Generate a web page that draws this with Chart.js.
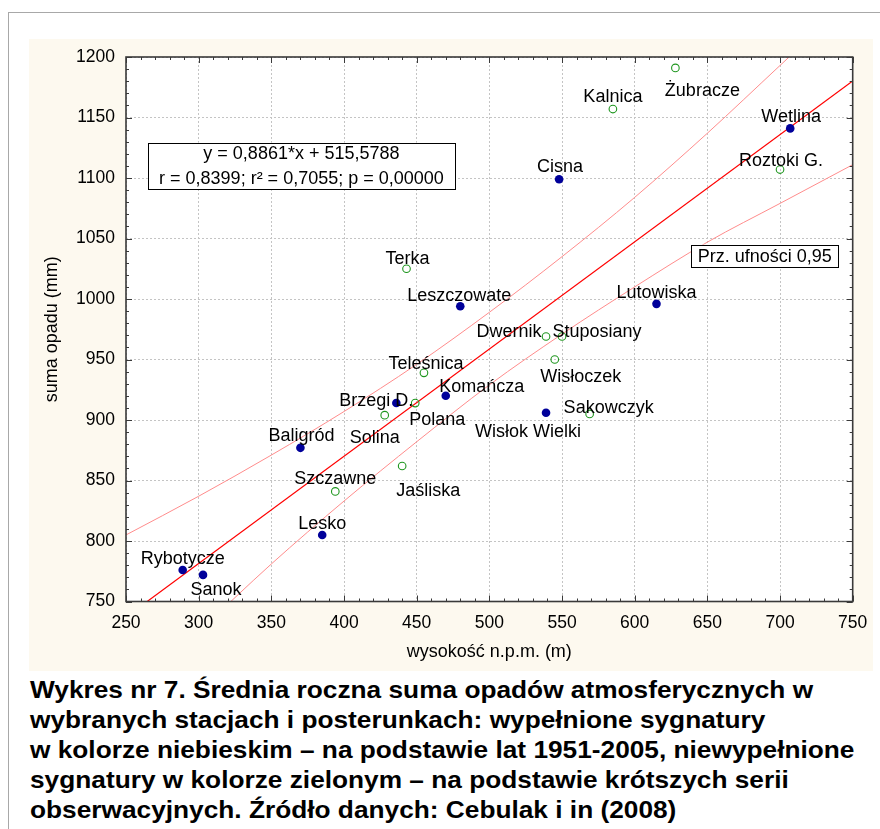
<!DOCTYPE html>
<html>
<head>
<meta charset="utf-8">
<script src="https://cdn.jsdelivr.net/npm/chart.js@4"></script>
<style>
  body { margin: 0; width: 880px; height: 829px; background: #fff; position: relative; overflow: hidden; font-family: "Liberation Sans", Arial, sans-serif; }
  #frame { position: absolute; left: 8px; top: 12px; right: 0; bottom: 0; border-left: 1px solid #a8a8a8; border-top: 1px solid #a8a8a8; }
  #plot { position: absolute; left: 29px; top: 39px; width: 844px; height: 632px; background: #fdf9ef; }
  #caption { position: absolute; left: 30px; top: 675px; font-weight: bold; font-size: 24px; line-height: 30.1px; white-space: nowrap; color: #000; transform: scaleX(1.094); transform-origin: 0 0; }
</style>
</head>
<body>
<div id="frame"></div>
<div id="plot"><canvas id="chart" width="844" height="632"></canvas></div>
<div id="caption">
Wykres nr 7. Średnia roczna suma opadów atmosferycznych w<br>
wybranych stacjach i posterunkach: wypełnione sygnatury<br>
w kolorze niebieskim – na podstawie lat 1951-2005, niewypełnione<br>
sygnatury w kolorze zielonym – na podstawie krótszych serii<br>
obserwacyjnych. Źródło danych: Cebulak i in (2008)
</div>
<script>
// Stations with 1951-2005 series (filled blue)
const filledNames = ['Rybotycze', 'Sanok', 'Baligród', 'Lesko', 'Brzegi D.', 'Komańcza', 'Leszczowate', 'Wisłok Wielki', 'Cisna', 'Lutowiska', 'Wetlina'];
const filledAlt = [289, 303, 370, 385, 436, 470, 480, 539, 548, 615, 707];
const filledRain = [776, 772, 877, 805, 914, 920, 994, 906, 1099, 996, 1141];

// Stations with shorter series (open green)
const openNames = ['Szczawne', 'Solina', 'Jaśliska', 'Terka', 'Polana', 'Teleśnica', 'Dwernik', 'Wisłoczek', 'Stuposiany', 'Sakowczyk', 'Kalnica', 'Żubracze', 'Roztoki G.'];
const openAlt = [394, 428, 440, 443, 449, 455, 539, 545, 550, 569, 585, 628, 700];
const openRain = [841, 904, 862, 1025, 914, 939, 969, 950, 969, 905, 1157, 1191, 1107];

// Regression line y = 0,8861*x + 515,5788 (end values)
const fitAlt = [250, 750];
const fitRain = [737.1, 1180.2];

// 95% confidence band
const bandAlt = [250, 300, 350, 400, 450, 500, 550, 600, 650, 700, 750];
const bandUpper = [805, 837, 871, 907, 946, 989, 1035, 1084, 1137, 1193, 1249];
const bandLower = [669, 725, 781, 833, 882, 929, 971, 1010, 1047, 1079, 1111];

// Tick labels
const xTickValues = [250, 300, 350, 400, 450, 500, 550, 600, 650, 700, 750];
const yTickValues = [750, 800, 850, 900, 950, 1000, 1050, 1100, 1150, 1200];

// Label placement (px from point: text centre x, baseline y)
const filledLabelOffsets = [[0, -6], [13, 20], [1, -7], [0, -6], [-20, 3], [36, -4], [-1, -5], [-18, 24], [1, -7], [0, -6], [1, -6]];
const openLabelOffsets = [[0, -7], [-10, 28], [26, 30], [1, -5], [22, 22], [2, -4], [-37, 0], [26, 22], [35, 0], [19, -1], [0, -7], [27, 28], [1, -4]];

const FONT = '"Liberation Sans", Arial, sans-serif';
Chart.defaults.font.family = FONT;

const toPoints = (xs, ys) => xs.map((x, i) => ({ x: x, y: ys[i] }));

// white plot area, tick marks, frame, text boxes and station names
const decorations = {
    id: 'decorations',
    beforeDraw(chart) {
        const { ctx, chartArea: a } = chart;
        ctx.save();
        ctx.fillStyle = '#fff';
        ctx.fillRect(a.left, a.top, a.width, a.height);
        ctx.restore();
    },
    afterDatasetsDraw(chart) {
        const { ctx, chartArea: a, scales: { x, y } } = chart;
        ctx.save();

        // inward tick marks on all four sides
        ctx.strokeStyle = '#3a3a3a';
        ctx.lineWidth = 1;
        ctx.beginPath();
        for (let v = x.min; v <= x.max; v += 10) {
            const px = Math.round(x.getPixelForValue(v)) + 0.5;
            const len = v % 50 === 0 ? 6 : 3;
            ctx.moveTo(px, a.bottom); ctx.lineTo(px, a.bottom - len);
            ctx.moveTo(px, a.top); ctx.lineTo(px, a.top + len);
        }
        for (let v = y.min; v <= y.max; v += 10) {
            const py = Math.round(y.getPixelForValue(v)) + 0.5;
            const len = v % 50 === 0 ? 6 : 3;
            ctx.moveTo(a.left, py); ctx.lineTo(a.left + len, py);
            ctx.moveTo(a.right, py); ctx.lineTo(a.right - len, py);
        }
        ctx.stroke();

        ctx.lineWidth = 1.6;
        ctx.strokeStyle = '#3a3a3a';
        ctx.strokeRect(a.left, a.top, a.width, a.height);

        // text boxes
        const box = (x0, x1, y0, y1, lines) => {
            const l = x.getPixelForValue(x0), r = x.getPixelForValue(x1);
            const t = y.getPixelForValue(y0), b = y.getPixelForValue(y1);
            ctx.fillStyle = '#fff';
            ctx.fillRect(l, t, r - l, b - t);
            ctx.strokeStyle = '#000';
            ctx.lineWidth = 1;
            ctx.strokeRect(Math.round(l) + 0.5, Math.round(t) + 0.5, Math.round(r - l), Math.round(b - t));
            ctx.fillStyle = '#000';
            ctx.font = '18px ' + FONT;
            ctx.textAlign = 'center';
            ctx.textBaseline = 'alphabetic';
            lines.forEach(([txt, dy]) => ctx.fillText(txt, (l + r) / 2, t + dy));
        };
        box(265, 476.4, 1129.2, 1091.5, [['y = 0,8861*x + 515,5788', 16.6], ['r = 0,8399; r² = 0,7055; p = 0,00000', 41]]);
        box(638.8, 740.1, 1044.9, 1026.4, [['Prz. ufności 0,95', 17.6]]);

        // station names
        ctx.font = '18px ' + FONT;
        ctx.fillStyle = '#000';
        ctx.textAlign = 'center';
        ctx.textBaseline = 'alphabetic';
        [[0, filledNames, filledLabelOffsets], [1, openNames, openLabelOffsets]].forEach(([di, names, offs]) => {
            chart.getDatasetMeta(di).data.forEach((pt, i) => {
                ctx.fillText(names[i], pt.x + offs[i][0], pt.y + offs[i][1]);
            });
        });
        ctx.restore();
    }
};

const tickFont = { size: 17.5, family: FONT };
const titleFont = { size: 18, family: FONT };

new Chart(document.getElementById('chart'), {
    type: 'scatter',
    data: {
        datasets: [
            {
                label: 'wypełnione',
                data: toPoints(filledAlt, filledRain),
                pointRadius: 4.3,
                pointBackgroundColor: '#00009a',
                pointBorderWidth: 0,
                order: 0
            },
            {
                label: 'niewypełnione',
                data: toPoints(openAlt, openRain),
                pointRadius: 3.8,
                pointBackgroundColor: 'rgba(0,0,0,0)',
                pointBorderColor: '#1e961e',
                pointBorderWidth: 1.1,
                order: 0
            },
            {
                label: 'regresja',
                data: toPoints(fitAlt, fitRain),
                showLine: true,
                pointRadius: 0,
                borderColor: '#ff0000',
                borderWidth: 1.2,
                clip: 0,
                order: 1
            },
            {
                label: 'górna granica',
                data: toPoints(bandAlt, bandUpper),
                showLine: true,
                pointRadius: 0,
                borderColor: '#ff8c8c',
                borderWidth: 1,
                cubicInterpolationMode: 'monotone',
                clip: 0,
                order: 2
            },
            {
                label: 'dolna granica',
                data: toPoints(bandAlt, bandLower),
                showLine: true,
                pointRadius: 0,
                borderColor: '#ff8c8c',
                borderWidth: 1,
                cubicInterpolationMode: 'monotone',
                clip: 0,
                order: 2
            }
        ]
    },
    options: {
        responsive: false,
        animation: false,
        events: [],
        layout: { padding: { left: 0, top: 18, right: 20.3, bottom: 0 } },
        plugins: { legend: { display: false }, tooltip: { enabled: false } },
        scales: {
            x: {
                type: 'linear',
                min: 250,
                max: 750,
                afterBuildTicks: s => { s.ticks = xTickValues.map(v => ({ value: v })); },
                afterFit: s => { s.height = 69.5; s.paddingLeft = 0; s.paddingRight = 0; },
                ticks: { font: tickFont, color: '#000', padding: 11, maxRotation: 0, callback: v => String(v) },
                grid: { color: '#c4c4c4', lineWidth: 1, drawTicks: false },
                border: { display: false, dash: [2, 2] },
                title: { display: true, text: 'wysokość n.p.m. (m)', font: titleFont, color: '#000', padding: { top: 0, bottom: 8.2 } }
            },
            y: {
                type: 'linear',
                min: 750,
                max: 1200,
                afterBuildTicks: s => { s.ticks = yTickValues.map(v => ({ value: v })); },
                afterFit: s => { s.width = 97; s.paddingTop = 0; s.paddingBottom = 0; },
                ticks: { font: tickFont, color: '#000', padding: 11, callback: v => String(v) },
                grid: { color: '#c4c4c4', lineWidth: 1, drawTicks: false },
                border: { display: false, dash: [2, 2] },
                title: { display: true, text: 'suma opadu (mm)', font: titleFont, color: '#000', padding: { top: 12.2, bottom: 0 } }
            }
        }
    },
    plugins: [decorations]
});
</script>
</body>
</html>
